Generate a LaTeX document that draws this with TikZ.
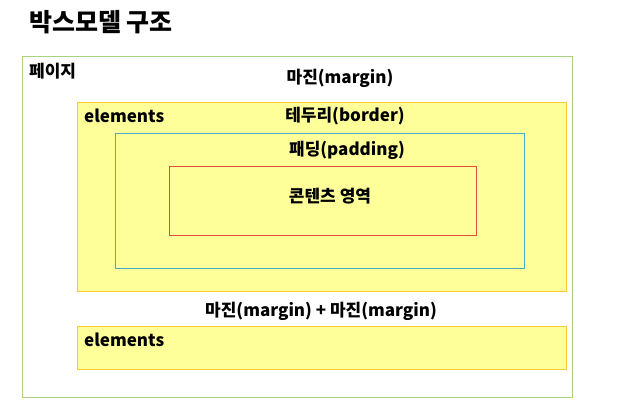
\documentclass[tikz,border=0pt]{standalone}
\usepackage{fontspec}
\setmainfont{Noto Sans CJK KR}
\usepackage{tikz}
\usetikzlibrary{positioning}
\definecolor{pagegreen}{HTML}{A6D37C}
\definecolor{elemfill}{HTML}{FFFF99}
\definecolor{elemline}{HTML}{FFC933}
\definecolor{padblue}{HTML}{4BACC6}
\definecolor{contred}{HTML}{E0503A}

\begin{document}
\begin{tikzpicture}[
				x=1pt,y=-1pt,
				every node/.style={font=\bfseries\fontsize{17}{19}\selectfont,inner sep=0pt},
				pagebox/.style={draw=pagegreen,line width=1.4pt,anchor=north west},
				elembox/.style={draw=elemline,line width=1.2pt,fill=elemfill,anchor=north west},
				padbox/.style={draw=padblue,line width=1pt,anchor=north west},
				contbox/.style={draw=contred,line width=1pt,anchor=north west},
				lbl/.style={anchor=west}]

				\useasboundingbox (0,0) rectangle (634,410);

				\node[font=\bfseries\fontsize{25}{29}\selectfont,lbl] (title) at (29,22) {박스모델 구조};

				\node[pagebox,minimum width=550pt,minimum height=341pt] (page) at (22,56) {};
				\node[elembox,minimum width=489pt,minimum height=189pt] (el1) at (77,102) {};
				\node[padbox,minimum width=409pt,minimum height=135pt] (pad) at (115,133) {};
				\node[contbox,minimum width=307pt,minimum height=69pt] (cont) at (169,166) {};
				\node[elembox,minimum width=489pt,minimum height=43pt] (el2) at (77,326) {};

				\node[lbl] (pagelbl) at (29,71) {페이지};
				\node (marg1) at (340,78) {마진(margin)};
				\node[lbl] (el1lbl) at (84,116) {elements};
				\node (border) at (345,116) {테두리(border)};
				\node (padlbl) at (347,150) {패딩(padding)};
				\node (contlbl) at (330,196) {콘텐츠 영역};
				\node (marg2) at (321,311) {마진(margin) + 마진(margin)};
				\node[lbl] (el2lbl) at (84,340) {elements};
			\end{tikzpicture}
\end{document}
